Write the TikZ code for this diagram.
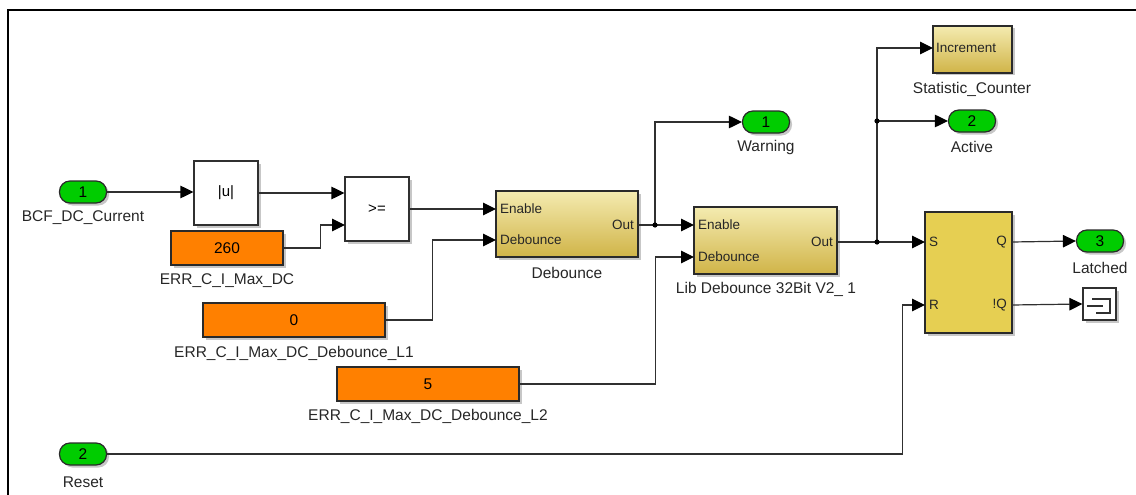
\documentclass[tikz,border=0pt]{standalone}
\usepackage{fontspec}
\setmainfont{Liberation Sans}
\usetikzlibrary{arrows.meta,shadows}
\definecolor{wirec}{HTML}{303030}
\definecolor{blkline}{HTML}{2A2A2A}
\definecolor{portgreen}{HTML}{00CC00}
\definecolor{constor}{HTML}{FF8000}
\definecolor{ytop}{HTML}{F4EBB0}
\definecolor{ybot}{HTML}{D0B448}
\definecolor{srfill}{HTML}{E6CF52}
\begin{document}
\begin{tikzpicture}[x=1pt,y=-1pt,
  wire/.style={draw=wirec, line width=1.2pt},
  arr/.style={wire, -{Triangle[length=13pt,width=12.5pt,color=black]}},
  blk/.style={draw=blkline, line width=1.2pt, inner sep=0pt,
    drop shadow={shadow xshift=2.5pt,shadow yshift=-2.5pt,fill=black,opacity=0.22}},
  port/.style={blk, fill=portgreen, rounded corners=10.5pt, minimum width=47pt,
    minimum height=22pt, font=\fontsize{15.5}{15.5}\selectfont},
  const/.style={blk, fill=constor, minimum height=34pt, font=\fontsize{15.5}{15.5}\selectfont},
  wblk/.style={blk, fill=white, draw=wirec, font=\fontsize{15}{15}\selectfont},
  yblk/.style={blk, top color=ytop, bottom color=ybot},
  lbl/.style={inner sep=0pt, font=\fontsize{15.5}{16}\selectfont, text=black!85},
  plbl/.style={inner sep=0pt, font=\fontsize{13.5}{14}\selectfont, text=black!85},
  dot/.style={fill=black, radius=2.6pt}
]
\useasboundingbox (0,0) rectangle (1136,495);
% frame
\draw[line width=2pt] (8,495) -- (8,10) -- (1136,10);

% inports
\node[port] (in1) at (83,192) {1};
\node[lbl] (in1l) at (83,218) {BCF\_DC\_Current};
\node[port] (in2) at (83,454) {2};
\node[lbl] (in2l) at (83,482) {Reset};

% abs and compare
\node[wblk, minimum width=64pt, minimum height=64pt] (abs) at (226,193) {|u|};
\node[wblk, minimum width=64pt, minimum height=64pt] (ge) at (377,209) {>=};
\coordinate (gein2) at (345,225);

% constants
\node[const, minimum width=112pt] (c260) at (227,248) {260};
\node[lbl] (c260l) at (227,281) {ERR\_C\_I\_Max\_DC};
\node[const, minimum width=182pt] (c0) at (294,320) {0};
\node[lbl] (c0l) at (294,353) {ERR\_C\_I\_Max\_DC\_Debounce\_L1};
\node[const, minimum width=182pt] (c5) at (428,384) {5};
\node[lbl] (c5l) at (428,416) {ERR\_C\_I\_Max\_DC\_Debounce\_L2};

% debounce 1
\node[yblk, minimum width=142pt, minimum height=66pt] (deb1) at (567,224) {};
\node[lbl] (deb1l) at (567,273) {Debounce};
\coordinate (deb1en) at (496,209);
\coordinate (deb1db) at (496,240);
\coordinate (deb1out) at (638,225);
\node[plbl, anchor=west] (deb1p1) at (500,209) {Enable};
\node[plbl, anchor=west] (deb1p2) at (500,240) {Debounce};
\node[plbl, anchor=east] (deb1p3) at (634,225) {Out};

% debounce 2
\node[yblk, minimum width=143pt, minimum height=67pt] (deb2) at (765.5,240.5) {};
\node[lbl] (deb2l) at (766,289) {Lib Debounce 32Bit V2\_ 1};
\coordinate (deb2en) at (694,225);
\coordinate (deb2db) at (694,257);
\coordinate (deb2out) at (837,242);
\node[plbl, anchor=west] (deb2p1) at (698,225) {Enable};
\node[plbl, anchor=west] (deb2p2) at (698,257) {Debounce};
\node[plbl, anchor=east] (deb2p3) at (833,242) {Out};

% outports
\node[port] (warn) at (766,122) {1};
\node[lbl] (warnl) at (766,147) {Warning};
\node[port] (active) at (972,121) {2};
\node[lbl] (activel) at (972,147) {Active};
\node[port] (latched) at (1100,241) {3};
\node[lbl] (latchedl) at (1100,268) {Latched};

% statistic counter
\node[yblk, minimum width=79pt, minimum height=47pt] (inc) at (972.5,49.5) {};
\node[plbl, anchor=west] (incp) at (936,48) {Increment};
\node[lbl] (incl) at (972,89) {Statistic\_Counter};
\coordinate (incin) at (933,48);

% SR flip flop
\node[blk, fill=srfill, minimum width=87pt, minimum height=121pt] (sr) at (968.5,272.5) {};
\coordinate (srS) at (925,242);
\coordinate (srR) at (925,305);
\coordinate (srq) at (1012,242);
\coordinate (srnq) at (1012,305);
\node[plbl, anchor=west] (srp1) at (929,242) {S};
\node[plbl, anchor=west] (srp2) at (929,305) {R};
\node[plbl, anchor=east] (srp3) at (1007,242) {Q};
\node[plbl, anchor=east] (srp4) at (1007,305) {!Q};

% terminator
\node[wblk, minimum width=33pt, minimum height=32pt] (term) at (1099.5,304) {};
\draw[wirec, line width=1.1pt] (1087,306) -- (1103,306);
\draw[wirec, line width=1.1pt] (1092,299) -- (1110,299) -- (1110,313) -- (1096,313);

% junctions
\coordinate (j1) at (655,225);
\coordinate (j2) at (877,242);
\coordinate (j3) at (877,121);

% wires
\draw[arr] (in1.east) -- (in1.east -| abs.west);
\draw[arr] (abs.east) -- (abs.east -| ge.west);
\draw[arr] (c260.east) -- ++(37,0) |- (gein2);
\draw[arr] (ge.east) -- (deb1en);
\draw[arr] (c0.east) -- ++(47,0) |- (deb1db);
\draw[arr] (c5.east) -- ++(136,0) |- (deb2db);
\draw[arr] (deb1out) -- (deb2en);
\draw[arr] (j1) |- (warn.west);
\draw[arr] (deb2out) -- (srS);
\draw[arr] (j2) |- (incin);
\draw[arr] (j3) -- (active.west);
\draw[arr] (srq) -- (latched.west);
\draw[arr] (srnq) -- (term.west);
\draw[arr] (in2.east) -- ++(795,0) |- (srR);
\fill[dot] (j1) circle;
\fill[dot] (j2) circle;
\fill[dot] (j3) circle;
\end{tikzpicture}
\end{document}
